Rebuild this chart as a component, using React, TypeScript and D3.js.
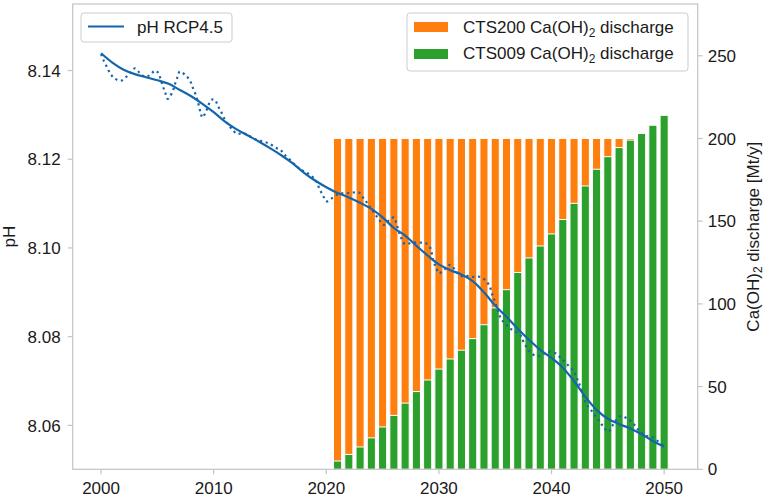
import React from "react";
import * as d3 from "d3";

// ---------- data ----------
const barYears: number[] = d3.range(2021, 2051);
const cts200: number[] = barYears.map(() => 200); // constant 200 Mt/y for every year
const cts009: number[] = [
  5, 9, 13.5, 19, 25.6, 32.6, 40, 47, 54, 60.6,
  66.7, 72, 79, 87.4, 97.6, 108.6, 119, 127.8, 135, 142.3,
  151, 160.8, 171.3, 181.4, 189, 194.5, 199, 203, 208, 214,
];

const smoothYears: number[] = d3.range(2000, 2051);
const smoothPH: number[] = [
  8.1439, 8.1418, 8.1402, 8.1392, 8.1385, 8.1378, 8.137, 8.1356, 8.1342, 8.1325,
  8.1306, 8.1285, 8.1268, 8.1254, 8.124, 8.1225, 8.1209, 8.1191, 8.117, 8.1152,
  8.1137, 8.1124, 8.1114, 8.1102, 8.1088, 8.1069, 8.1045, 8.1028, 8.1005, 8.0983,
  8.0963, 8.095, 8.094, 8.0925, 8.09, 8.087, 8.0845, 8.0818, 8.0793, 8.077,
  8.0752, 8.073, 8.07, 8.0665, 8.0635, 8.0615, 8.0603, 8.0593, 8.058, 8.0565,
  8.0552,
];

const rawYears: number[] = [
  2000.0, 2000.2, 2000.5, 2000.8, 2001.15, 2001.75, 2002.2, 2002.6, 2003.0, 2003.45,
  2003.9, 2004.35, 2004.8, 2005.1, 2005.3, 2005.5, 2005.7, 2005.9, 2006.1, 2006.4,
  2006.6, 2006.8, 2007.0, 2007.55, 2007.9, 2008.1, 2008.35, 2008.55, 2008.7, 2008.85,
  2009.0, 2009.3, 2009.8, 2010.1, 2010.4, 2010.7, 2011.0, 2011.3, 2011.7, 2012.1,
  2012.6, 2013.2, 2013.8, 2014.4, 2014.95, 2015.45, 2015.96, 2016.3, 2016.85, 2017.4,
  2017.8, 2018.3, 2018.9, 2019.2, 2019.4, 2019.7, 2020.0, 2020.5, 2021.1, 2021.7,
  2022.35, 2022.9, 2023.3, 2023.65, 2024.0, 2024.4, 2024.7, 2025.1, 2025.6, 2026.0,
  2026.26, 2026.6, 2026.97, 2027.6, 2028.2, 2028.8, 2029.2, 2029.5, 2029.75, 2030.0,
  2030.5, 2031.0, 2031.5, 2031.9, 2032.5, 2033.0, 2033.6, 2034.1, 2034.5, 2034.7,
  2034.9, 2035.2, 2035.5, 2035.9, 2036.3, 2036.85, 2037.3, 2037.5, 2037.8, 2038.15,
  2038.7, 2039.2, 2039.7, 2040.26, 2040.7, 2041.15, 2041.6, 2042.0, 2042.25, 2042.5,
  2042.9, 2043.1, 2043.5, 2043.9, 2044.25, 2044.6, 2045.05, 2045.4, 2045.7, 2046.15,
  2046.7, 2047.2, 2047.6, 2048.0, 2048.45, 2048.98, 2049.5, 2050.0,
];
const rawPH: number[] = [
  8.1437, 8.1424, 8.1409, 8.1394, 8.1383, 8.1377, 8.1385, 8.1395, 8.1405, 8.1394,
  8.1386, 8.139, 8.14, 8.1394, 8.1379, 8.1364, 8.135, 8.1336, 8.1341, 8.1356,
  8.1372, 8.1386, 8.1398, 8.1388, 8.1377, 8.1364, 8.1349, 8.1334, 8.1319, 8.1304,
  8.1294, 8.1307, 8.1334, 8.1334, 8.1319, 8.1305, 8.1289, 8.1278, 8.1266, 8.1257,
  8.1259, 8.1252, 8.1244, 8.124, 8.1235, 8.1227, 8.122, 8.121, 8.1197, 8.1183,
  8.1176, 8.1169, 8.1157, 8.1146, 8.1132, 8.1119, 8.1105, 8.1112, 8.1122, 8.1123,
  8.1125, 8.1125, 8.1112, 8.1101, 8.1088, 8.1074, 8.1063, 8.1052, 8.1063, 8.1069,
  8.1052, 8.1026, 8.1009, 8.1012, 8.1012, 8.1011, 8.1002, 8.0971, 8.0956, 8.0943,
  8.0952, 8.0962, 8.0948, 8.0937, 8.0937, 8.0935, 8.0935, 8.0928, 8.0914, 8.0898,
  8.0884, 8.0862, 8.0841, 8.0829, 8.0819, 8.0811, 8.0801, 8.0789, 8.0776, 8.0764,
  8.0756, 8.076, 8.0766, 8.0764, 8.0755, 8.0744, 8.0732, 8.0721, 8.0706, 8.0691,
  8.0661, 8.0648, 8.0635, 8.0621, 8.061, 8.0597, 8.0586, 8.0599, 8.0611, 8.0621,
  8.0616, 8.0606, 8.0593, 8.0583, 8.0576, 8.0573, 8.0563, 8.0553,
];

const xTicks: number[] = [2000, 2010, 2020, 2030, 2040, 2050];
const phTicks: number[] = [8.06, 8.08, 8.1, 8.12, 8.14];
const dischargeTicks: number[] = [0, 50, 100, 150, 200, 250];

// ---------- layout ----------
const W = 766;
const H = 497;
const L = 72.7;
const R = 697.7;
const T = 4;
const B = 469.3;
const FONT = "'Liberation Sans', Arial, sans-serif";
const FS = 17;
const BLUE = "#1565ac";
const ORANGE = "#ff7f0e";
const GREEN = "#2ca02c";
const SPINE = "#c4c4c4";
const TEXT = "#1a1a1a";

export default function App() {
  const x = d3.scaleLinear().domain([1997.48, 2052.98]).range([L, R]);
  const yL = d3.scaleLinear().domain([8.0501, 8.155]).range([B, T]);
  const yR = d3.scaleLinear().domain([0, 281.3]).range([B, T]);
  const bw = x(2000.72) - x(2000);

  const lineGen = d3
    .line<[number, number]>()
    .x((d) => x(d[0]))
    .y((d) => yL(d[1]))
    .curve(d3.curveCatmullRom.alpha(0.5));

  const smoothPath = lineGen(smoothYears.map((yr, i) => [yr, smoothPH[i]] as [number, number])) || "";
  const rawPath = lineGen(rawYears.map((yr, i) => [yr, rawPH[i]] as [number, number])) || "";

  return (
    <svg
      width={W}
      height={H}
      style={{ position: "absolute", left: 0, top: 0, background: "#fff" }}
      fontFamily={FONT}
    >
      <rect x={0} y={0} width={W} height={H} fill="#fff" />
      {/* bars */}
      <g>
        {barYears.map((yr, i) => (
          <rect
            key={"o" + yr}
            x={x(yr) - bw / 2}
            y={yR(cts200[i])}
            width={bw}
            height={yR(0) - yR(cts200[i])}
            fill={ORANGE}
            stroke="#fff"
            strokeWidth={1}
          />
        ))}
        {barYears.map((yr, i) => (
          <rect
            key={"g" + yr}
            x={x(yr) - bw / 2}
            y={yR(cts009[i])}
            width={bw}
            height={yR(0) - yR(cts009[i])}
            fill={GREEN}
            stroke="#fff"
            strokeWidth={1}
          />
        ))}
      </g>
      {/* lines */}
      <path d={rawPath} fill="none" stroke={BLUE} strokeWidth={2.2} strokeDasharray="2.2 3.6" />
      <path d={smoothPath} fill="none" stroke={BLUE} strokeWidth={2.2} />

      {/* spines */}
      <rect x={L} y={T} width={R - L} height={B - T} fill="none" stroke={SPINE} strokeWidth={1.2} />

      {/* x ticks */}
      {xTicks.map((t) => (
        <g key={"x" + t}>
          <line x1={x(t)} x2={x(t)} y1={B} y2={B + 5} stroke={SPINE} strokeWidth={1.2} />
          <text x={x(t)} y={494.3} textAnchor="middle" fontSize={FS} fill={TEXT}>
            {t}
          </text>
        </g>
      ))}
      {/* left ticks */}
      {phTicks.map((t) => (
        <g key={"l" + t}>
          <line x1={L - 5} x2={L} y1={yL(t)} y2={yL(t)} stroke={SPINE} strokeWidth={1.2} />
          <text x={L - 12} y={yL(t)} dy="0.36em" textAnchor="end" fontSize={FS} fill={TEXT}>
            {t.toFixed(2)}
          </text>
        </g>
      ))}
      {/* right ticks */}
      {dischargeTicks.map((t) => (
        <g key={"r" + t}>
          <line x1={R} x2={R + 5} y1={yR(t)} y2={yR(t)} stroke={SPINE} strokeWidth={1.2} />
          <text x={R + 10} y={yR(t)} dy="0.36em" textAnchor="start" fontSize={FS} fill={TEXT}>
            {t}
          </text>
        </g>
      ))}

      {/* axis labels */}
      <text
        transform={`translate(15,${(T + B) / 2}) rotate(-90)`}
        textAnchor="middle"
        fontSize={FS}
        fill={TEXT}
      >
        pH
      </text>
      <text
        transform={`translate(759,${(T + B) / 2}) rotate(-90)`}
        textAnchor="middle"
        fontSize={FS}
        fill={TEXT}
      >
        Ca(OH)<tspan fontSize={12} dy={3}>2</tspan>
        <tspan dy={-3}> discharge [Mt/y]</tspan>
      </text>

      {/* left legend */}
      <g>
        <rect x={81} y={13} width={151} height={29} rx={3} fill="#fff" fillOpacity={0.85} stroke="#cccccc" strokeWidth={1} />
        <line x1={88} x2={124} y1={26.5} y2={26.5} stroke={BLUE} strokeWidth={2.2} />
        <text x={137} y={33.3} fontSize={FS} fill={TEXT}>
          pH RCP4.5
        </text>
      </g>
      {/* right legend */}
      <g>
        <rect x={407} y={13} width={281} height={58} rx={3} fill="#fff" fillOpacity={0.85} stroke="#cccccc" strokeWidth={1} />
        <rect x={414} y={22} width={34} height={10} fill={ORANGE} />
        <text x={463} y={33.3} fontSize={FS} fill={TEXT}>
          CTS200 Ca(OH)<tspan fontSize={12} dy={4}>2</tspan>
          <tspan dy={-4}> discharge</tspan>
        </text>
        <rect x={414} y={49} width={34} height={10} fill={GREEN} />
        <text x={463} y={59.3} fontSize={FS} fill={TEXT}>
          CTS009 Ca(OH)<tspan fontSize={12} dy={4}>2</tspan>
          <tspan dy={-4}> discharge</tspan>
        </text>
      </g>
    </svg>
  );
}
